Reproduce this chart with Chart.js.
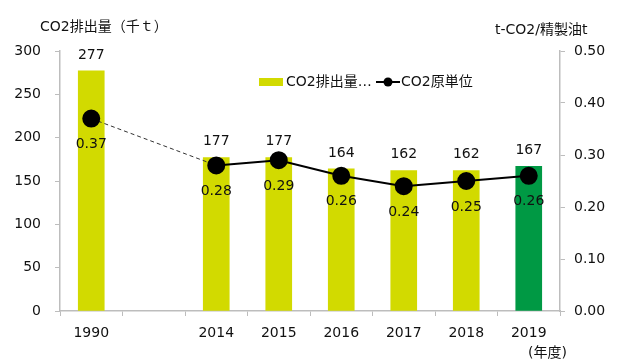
<!DOCTYPE html>
<html>
<head>
  <title>CO2排出量</title>
  <script src="https://cdn.jsdelivr.net/npm/chart.js"></script>
  <style>
    html, body { margin: 0; padding: 0; background: #fff; }
    #wrap { width: 623px; height: 364px; position: relative; }
  </style>
</head>
<body>
  <div id="wrap"><canvas id="co2Chart"></canvas></div>

  <script>
    // data
    const years = ['1990', '', '2014', '2015', '2016', '2017', '2018', '2019'];
    const emissions = [277, null, 177, 177, 164, 162, 162, 167];
    const intensity = [0.37, null, 0.28, 0.29, 0.26, 0.24, 0.25, 0.26];

    const barColor = '#d2da00';
    const latestColor = '#009944';
    const axisColor = '#bdbdbd';
    const fontFamily = "'DejaVu Sans', 'Noto Sans CJK JP', sans-serif";

    const barColors = emissions.map((v, i) => i === emissions.length - 1 ? latestColor : barColor);

    // the 1990 -> 2014 stretch spans the empty slot, drawn dashed
    const isGapSegment = c => c.p0DataIndex < 2;

    // value labels, axis captions and legend drawn by hand
    const extras = {
      id: 'extras',
      afterDatasetsDraw(chart) {
        const ctx = chart.ctx;
        ctx.save();
        ctx.fillStyle = '#111';
        ctx.font = '14px ' + fontFamily;
        ctx.textAlign = 'center';
        ctx.textBaseline = 'middle';

        chart.getDatasetMeta(0).data.forEach((bar, i) => {
          if (emissions[i] == null) return;
          ctx.fillText(String(emissions[i]), bar.x, bar.y - 16);
        });
        chart.getDatasetMeta(1).data.forEach((pt, i) => {
          if (intensity[i] == null) return;
          ctx.fillText(intensity[i].toFixed(2), pt.x, pt.y + 26);
        });

        // axis captions
        ctx.textAlign = 'left';
        ctx.fillText('CO2排出量（千ｔ）', 40, 27);
        ctx.fillText('t-CO2/精製油t', 495, 30);
        ctx.fillText('(年度)', 528, 353);

        // legend
        ctx.fillStyle = barColor;
        ctx.fillRect(259, 78, 24, 8);
        ctx.fillStyle = '#111';
        ctx.fillText('CO2排出量…', 286, 82);
        ctx.strokeStyle = '#000';
        ctx.lineWidth = 2;
        ctx.beginPath();
        ctx.moveTo(376, 82);
        ctx.lineTo(400, 82);
        ctx.stroke();
        ctx.beginPath();
        ctx.arc(388, 82, 4.5, 0, Math.PI * 2);
        ctx.fillStyle = '#000';
        ctx.fill();
        ctx.fillStyle = '#111';
        ctx.fillText('CO2原単位', 401, 82);
        ctx.restore();
      }
    };

    const ctx = document.getElementById('co2Chart').getContext('2d');
    const chart = new Chart(ctx, {
      type: 'bar',
      data: {
        labels: years,
        datasets: [
          {
            label: 'CO2排出量（千ｔ）',
            data: emissions,
            backgroundColor: barColors,
            barThickness: 26,
            yAxisID: 'y',
            order: 2
          },
          {
            label: 'CO2原単位',
            type: 'line',
            data: intensity,
            yAxisID: 'y2',
            borderColor: '#000',
            borderWidth: 2,
            pointRadius: 8,
            pointBackgroundColor: '#000',
            pointBorderColor: '#000',
            spanGaps: true,
            order: 1,
            segment: {
              borderDash: c => isGapSegment(c) ? [4, 3] : undefined,
              borderWidth: c => isGapSegment(c) ? 1 : undefined,
              borderColor: c => isGapSegment(c) ? '#333' : undefined
            }
          }
        ]
      },
      options: {
        responsive: true,
        maintainAspectRatio: false,
        animation: false,
        layout: { padding: { top: 51 } },
        plugins: {
          legend: { display: false },
          tooltip: { enabled: false }
        },
        scales: {
          x: {
            afterFit: s => { s.height = 53; },
            grid: {
              drawOnChartArea: false,
              drawTicks: true,
              tickLength: 5,
              color: axisColor
            },
            border: { color: axisColor, width: 1.5 },
            ticks: {
              color: '#111',
              padding: 9,
              font: { family: fontFamily, size: 14 }
            }
          },
          y: {
            position: 'left',
            min: 0,
            max: 300,
            afterFit: s => { s.width = 60; },
            grid: {
              drawOnChartArea: false,
              drawTicks: true,
              tickLength: 5,
              color: axisColor
            },
            border: { color: axisColor, width: 1.5 },
            ticks: {
              stepSize: 50,
              color: '#111',
              padding: 14,
              font: { family: fontFamily, size: 14 }
            }
          },
          y2: {
            position: 'right',
            min: 0,
            max: 0.5,
            afterFit: s => { s.width = 63; },
            grid: {
              drawOnChartArea: false,
              drawTicks: true,
              tickLength: 5,
              color: axisColor
            },
            border: { color: axisColor, width: 1.5 },
            ticks: {
              stepSize: 0.1,
              color: '#111',
              padding: 9,
              font: { family: fontFamily, size: 14 },
              callback: v => v.toFixed(2)
            }
          }
        }
      },
      plugins: [extras]
    });
  </script>
</body>
</html>
